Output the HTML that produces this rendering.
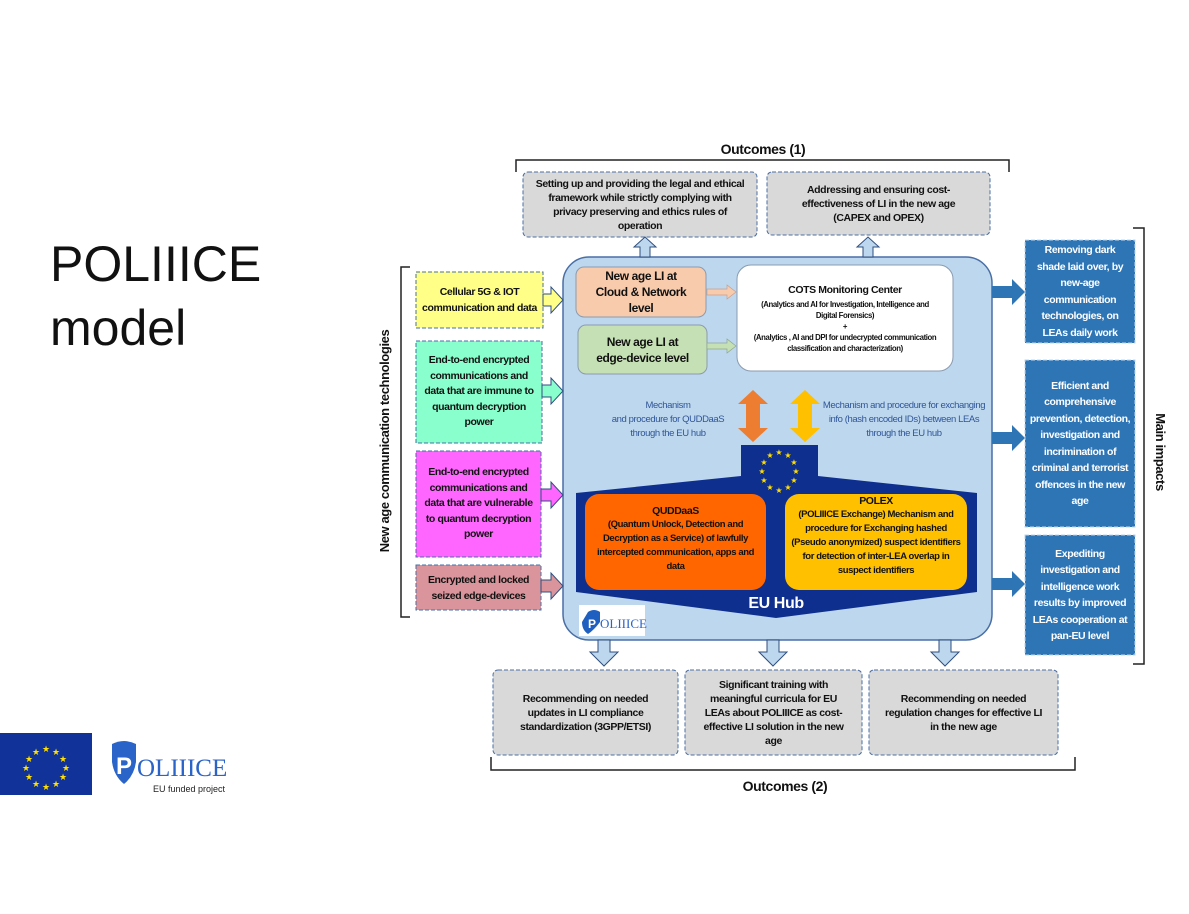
<!DOCTYPE html>
<html><head><meta charset="utf-8"><style>
body{margin:0;width:1189px;height:914px;background:#fff;position:relative;overflow:hidden;font-family:"Liberation Sans",sans-serif;}
.t{position:absolute;display:flex;align-items:center;justify-content:center;text-align:center;font-weight:bold;font-size:10.5px;line-height:14px;color:#111;box-sizing:border-box;letter-spacing:-0.4px;}
svg{position:absolute;left:0;top:0;}
</style></head><body>
<svg width="1189" height="914">
<path d="M516,172 V160 H1009 V172" fill="none" stroke="#222" stroke-width="1.5"/>
<path d="M410,267 H401 V617 H410" fill="none" stroke="#222" stroke-width="1.5"/>
<path d="M1133,228 H1144 V664 H1133" fill="none" stroke="#222" stroke-width="1.5"/>
<path d="M491,757 V770 H1075 V757" fill="none" stroke="#222" stroke-width="1.5"/>
<rect x="563" y="257" width="429" height="383" rx="26" fill="#bdd7ee" stroke="#4a6fa5" stroke-width="1.5"/>
<rect x="523" y="172" width="234" height="65" rx="5" fill="#d9d9d9" stroke="#4a6fa5" stroke-dasharray="4,2"/>
<rect x="767" y="172" width="223" height="63" rx="5" fill="#d9d9d9" stroke="#4a6fa5" stroke-dasharray="4,2"/>
<path d="M640,257 V247 H634 L645,237 L656,247 H650 V257Z" fill="#bdd7ee" stroke="#2f4f7f"/>
<path d="M863,257 V247 H857 L868,237 L879,247 H873 V257Z" fill="#bdd7ee" stroke="#2f4f7f"/>
<path d="M598,640 V652 H590 L604,666 L618,652 H610 V640Z" fill="#bdd7ee" stroke="#2f4f7f"/>
<path d="M767,640 V652 H759 L773,666 L787,652 H779 V640Z" fill="#bdd7ee" stroke="#2f4f7f"/>
<path d="M939,640 V652 H931 L945,666 L959,652 H951 V640Z" fill="#bdd7ee" stroke="#2f4f7f"/>
<rect x="493" y="670" width="185" height="85" rx="5" fill="#d9d9d9" stroke="#4a6fa5" stroke-dasharray="4,2"/>
<rect x="685" y="670" width="177" height="85" rx="5" fill="#d9d9d9" stroke="#4a6fa5" stroke-dasharray="4,2"/>
<rect x="869" y="670" width="189" height="85" rx="5" fill="#d9d9d9" stroke="#4a6fa5" stroke-dasharray="4,2"/>
<rect x="416" y="272" width="127" height="56" fill="#ffff88" stroke="#4a6fa5" stroke-dasharray="4,2"/>
<rect x="416" y="341" width="126" height="102" fill="#88ffcc" stroke="#4a6fa5" stroke-dasharray="4,2"/>
<rect x="416" y="451" width="125" height="106" fill="#ff66ff" stroke="#4a6fa5" stroke-dasharray="4,2"/>
<rect x="416" y="565" width="125" height="45" fill="#d9959b" stroke="#4a6fa5" stroke-dasharray="4,2"/>
<path d="M543,294 H551 V287 L563,300 L551,313 V306 H543Z" fill="#ffff88" stroke="#2f4f7f"/>
<path d="M542,385 H551 V378 L563,391 L551,404 V397 H542Z" fill="#88ffcc" stroke="#2f4f7f"/>
<path d="M541,489 H551 V482 L563,495 L551,508 V501 H541Z" fill="#ff66ff" stroke="#2f4f7f"/>
<path d="M541,580 H551 V573 L563,586 L551,599 V592 H541Z" fill="#d9959b" stroke="#2f4f7f"/>
<path d="M992,286 H1012 V279 L1025,292 L1012,305 V298 H992Z" fill="#2e75b6"/>
<path d="M992,432 H1012 V425 L1025,438 L1012,451 V444 H992Z" fill="#2e75b6"/>
<path d="M992,578 H1012 V571 L1025,584 L1012,597 V590 H992Z" fill="#2e75b6"/>
<rect x="1025" y="240" width="110" height="103" fill="#2e75b6" stroke="#bdd7ee" stroke-dasharray="4,2"/>
<rect x="1025" y="360" width="110" height="167" fill="#2e75b6" stroke="#bdd7ee" stroke-dasharray="4,2"/>
<rect x="1025" y="535" width="110" height="120" fill="#2e75b6" stroke="#bdd7ee" stroke-dasharray="4,2"/>
<rect x="576" y="267" width="130" height="50" rx="8" fill="#f8cbad" stroke="#8a9bb0"/>
<rect x="578" y="325" width="129" height="49" rx="8" fill="#c5e0b4" stroke="#8a9bb0"/>
<rect x="737" y="265" width="216" height="106" rx="14" fill="#fff" stroke="#8a9bb0"/>
<path d="M707,289 H727 V285 L736,292 L727,299 V295 H707Z" fill="#f8cbad" stroke="#c8a090" stroke-width="0.7"/>
<path d="M707,343 H727 V339 L736,346 L727,353 V349 H707Z" fill="#c5e0b4" stroke="#90a890" stroke-width="0.7"/>
<path d="M753,390 L768,404 H760 V428 H768 L753,442 L738,428 H746 V404 H738Z" fill="#ed7d31"/>
<path d="M805,390 L820,404 H812 V428 H820 L805,442 L790,428 H798 V404 H790Z" fill="#ffc000"/>
<path d="M741,445 H818 V476 L977,493 V592 L776,618 L576,592 V493 L741,476Z" fill="#0f2f8f"/>
<rect x="585" y="494" width="181" height="96" rx="14" fill="#ff6600"/>
<rect x="785" y="494" width="182" height="96" rx="14" fill="#ffc000"/>
<g fill="#ffde00" font-size="8" text-anchor="middle" font-family="DejaVu Sans">
<text x="779" y="455">★</text><text x="788" y="458">★</text><text x="794" y="465">★</text><text x="796" y="474">★</text><text x="794" y="483">★</text><text x="788" y="490">★</text><text x="779" y="493">★</text><text x="770" y="490">★</text><text x="764" y="483">★</text><text x="762" y="474">★</text><text x="764" y="465">★</text><text x="770" y="458">★</text>
</g>
<rect x="579" y="605" width="66" height="31" fill="#fff"/>
<path d="M584,612 q6,-4 12,0 v10 q-6,8 -12,12 q-6,-4 -6,-12z" fill="#1f5fbf" transform="translate(4,0)"/>
<rect x="0" y="733" width="92" height="62" fill="#113399"/>
<g fill="#ffde00" font-size="9" text-anchor="middle" font-family="DejaVu Sans">
<text x="46" y="752">★</text><text x="56" y="755">★</text><text x="63" y="762">★</text><text x="66" y="771">★</text><text x="63" y="780">★</text><text x="56" y="787">★</text><text x="46" y="790">★</text><text x="36" y="787">★</text><text x="29" y="780">★</text><text x="26" y="771">★</text><text x="29" y="762">★</text><text x="36" y="755">★</text>
</g>
<path d="M112,744 q12,-6 24,0 v18 q-2,14 -12,22 q-10,-8 -12,-22z" fill="#2a64c8"/>
<text x="124" y="774" font-family="Liberation Sans" font-weight="bold" font-size="24" fill="#fff" text-anchor="middle">P</text>
<text x="137" y="776" font-family="Liberation Serif" font-size="25" fill="#2a64c8">OLIIICE</text>
<text x="189" y="792" font-family="Liberation Sans" font-size="9" fill="#222" text-anchor="middle">EU funded project</text>
<text x="592" y="628" font-family="Liberation Sans" font-weight="bold" font-size="12" fill="#fff" text-anchor="middle">P</text>
<text x="600" y="628" font-family="Liberation Serif" font-size="13" fill="#2a64c8">OLIIICE</text>
</svg>

<div class="t" style="left:50px;top:228px;width:280px;height:136px;justify-content:flex-start;text-align:left;font-weight:normal;font-size:50px;line-height:64px;letter-spacing:0;">POLIIICE<br>model</div>

<div class="t" style="left:663px;top:140px;width:200px;height:18px;font-size:14px;">Outcomes (1)</div>
<div class="t" style="left:685px;top:777px;width:200px;height:18px;font-size:14px;">Outcomes (2)</div>
<div class="t" style="left:285px;top:432px;width:200px;height:18px;font-size:13px;white-space:nowrap;transform:rotate(-90deg);">New age communication technologies</div>
<div class="t" style="left:1110px;top:443px;width:100px;height:18px;font-size:13px;white-space:nowrap;transform:rotate(90deg);">Main impacts</div>

<div class="t" style="left:523px;top:172px;width:234px;height:65px;padding:0 8px;">Setting up and providing the legal and ethical framework while strictly complying with privacy preserving and ethics rules of operation</div>
<div class="t" style="left:767px;top:172px;width:223px;height:63px;padding:0 22px;">Addressing and ensuring cost-effectiveness of LI in the new age (CAPEX and OPEX)</div>

<div class="t" style="left:493px;top:670px;width:185px;height:85px;padding:0 18px;">Recommending on needed updates in LI compliance standardization (3GPP/ETSI)</div>
<div class="t" style="left:685px;top:670px;width:177px;height:85px;padding:0 14px;">Significant training with meaningful curricula for EU LEAs about POLIIICE as cost-effective LI solution in the new age</div>
<div class="t" style="left:869px;top:670px;width:189px;height:85px;padding:0 14px;">Recommending on needed regulation changes for effective LI in the new age</div>

<div class="t" style="left:416px;top:272px;width:127px;height:56px;line-height:16px;padding:0 6px;">Cellular 5G &amp; IOT communication and data</div>
<div class="t" style="left:416px;top:341px;width:126px;height:102px;line-height:15.5px;padding:0 4px;">End-to-end encrypted communications and data that are immune to quantum decryption power</div>
<div class="t" style="left:416px;top:451px;width:125px;height:106px;line-height:15.5px;padding:0 8px;">End-to-end encrypted communications and data that are vulnerable to quantum decryption power</div>
<div class="t" style="left:416px;top:565px;width:125px;height:45px;line-height:16px;padding:0 2px;">Encrypted and locked seized edge-devices</div>

<div class="t" style="left:1025px;top:240px;width:110px;height:103px;color:#fff;line-height:16.5px;padding:0 6px;">Removing dark shade laid over, by new-age communication technologies, on LEAs daily work</div>
<div class="t" style="left:1025px;top:360px;width:110px;height:167px;color:#fff;line-height:16.5px;padding:0 4px;">Efficient and comprehensive prevention, detection, investigation and incrimination of criminal and terrorist offences in the new age</div>
<div class="t" style="left:1025px;top:535px;width:110px;height:120px;color:#fff;line-height:16.5px;padding:0 6px;">Expediting investigation and intelligence work results by improved LEAs cooperation at pan-EU level</div>

<div class="t" style="left:576px;top:267px;width:130px;height:50px;font-size:12px;line-height:16px;padding:0 14px;">New age LI at Cloud &amp; Network level</div>
<div class="t" style="left:578px;top:325px;width:129px;height:49px;font-size:12px;line-height:16px;padding:0 14px;">New age LI at edge-device level</div>
<div class="t" style="left:737px;top:265px;width:216px;height:106px;flex-direction:column;font-size:7.8px;line-height:11px;padding:0 14px;"><div style="font-size:10.5px;line-height:14px;margin-bottom:2px">COTS Monitoring Center</div>(Analytics and AI for Investigation, Intelligence and Digital Forensics)<br>+<br>(Analytics , AI and DPI for undecrypted communication classification and characterization)</div>

<div class="t" style="left:598px;top:398px;width:140px;height:44px;color:#2f5597;font-weight:normal;font-size:9.5px;line-height:14px;">Mechanism<br>and procedure for QUDDaaS through the EU hub</div>
<div class="t" style="left:818px;top:398px;width:172px;height:44px;color:#2f5597;font-weight:normal;font-size:9.5px;line-height:14px;">Mechanism and procedure for exchanging info (hash encoded IDs) between LEAs through the EU hub</div>

<div class="t" style="left:585px;top:494px;width:181px;height:96px;flex-direction:column;justify-content:flex-start;padding:10px 6px 0;font-size:9.5px;line-height:14px;"><div style="font-size:10.5px">QUDDaaS</div>(Quantum Unlock, Detection and Decryption as a Service) of lawfully intercepted communication, apps and data</div>
<div class="t" style="left:785px;top:494px;width:182px;height:96px;flex-direction:column;justify-content:flex-start;padding:0 6px;font-size:9.5px;line-height:14px;"><div style="font-size:10.5px">POLEX</div>(POLIIICE Exchange) Mechanism and procedure for Exchanging hashed (Pseudo anonymized) suspect identifiers for detection of inter-LEA overlap in suspect identifiers</div>
<div class="t" style="left:726px;top:594px;width:100px;height:20px;color:#fff;font-size:16px;">EU Hub</div>
</body></html>
